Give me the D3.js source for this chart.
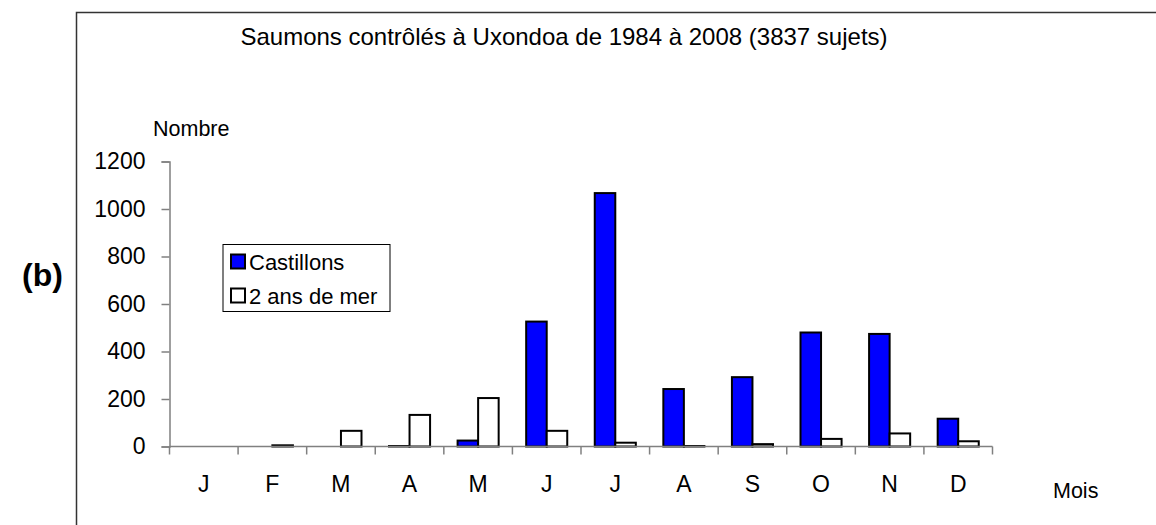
<!DOCTYPE html>
<html>
<head>
<meta charset="utf-8">
<script src="https://cdn.jsdelivr.net/npm/d3@7"></script>
<style>
  body { margin: 0; background: #fff; }
  svg { display: block; font-family: "Liberation Sans", Arial, sans-serif; }
</style>
</head>
<body>
<div id="chart"></div>
<script>
// month initials (x categories)
const months = ["J", "F", "M", "A", "M", "J", "J", "A", "S", "O", "N", "D"]
// salmon counts per month
const castillons = [0, 0, 0, 2, 25, 526, 1067, 242, 292, 480, 474, 117]
const deuxAnsDeMer = [0, 5, 66, 133, 204, 66, 16, 2, 10, 32, 55, 22]
const yTicks = [0, 200, 400, 600, 800, 1000, 1200]
const seriesNames = ["Castillons", "2 ans de mer"]
const seriesColors = ["#0000ff", "#ffffff"]

const W = 1156, H = 525
const margin = { left: 169.5, right: W - 992.5, top: 161.5, bottom: H - 446.5 }

const svg = d3.select("#chart").append("svg")
  .attr("width", W)
  .attr("height", H)

// outer frame (cropped on the right and bottom)
svg.append("path")
  .attr("d", `M76.5,${H + 2}V12.5H${W + 2}`)
  .attr("fill", "none")
  .attr("stroke", "#333")
  .attr("stroke-width", 1.5)

const x = d3.scaleBand()
  .domain(d3.range(months.length))
  .range([margin.left, W - margin.right])

const x1 = d3.scaleBand()
  .domain([0, 1])
  .range([0, x.bandwidth()])
  .paddingInner(0)
  .paddingOuter(0.67)

const y = d3.scaleLinear()
  .domain([0, 1200])
  .range([H - margin.bottom, margin.top])

// y axis
const yAxis = svg.append("g")
  .attr("transform", `translate(${margin.left},0)`)
  .call(d3.axisLeft(y).tickValues(yTicks).tickFormat(d3.format("d")).tickSize(8).tickPadding(16))
yAxis.select(".domain").attr("stroke", "#808080").attr("stroke-width", 1.5)
yAxis.selectAll(".tick line").attr("stroke", "#808080").attr("stroke-width", 1.5)
yAxis.selectAll(".tick text")
  .attr("font-size", "23px")
  .attr("fill", "#000")
  .attr("font-family", "Liberation Sans, Arial, sans-serif")

// bars
const data = months.map((m, i) => [castillons[i], deuxAnsDeMer[i]])
const groups = svg.append("g").selectAll("g")
  .data(data)
  .join("g")
  .attr("transform", (d, i) => `translate(${x(i)},0)`)

groups.selectAll("rect")
  .data(d => d.map((v, k) => ({ v, k })))
  .join("rect")
  .attr("x", d => x1(d.k))
  .attr("width", x1.bandwidth())
  .attr("y", d => y(d.v))
  .attr("height", d => y(0) - y(d.v))
  .attr("fill", d => seriesColors[d.k])
  .attr("stroke", "#000")
  .attr("stroke-width", 2)

// x axis (zero line + category ticks)
const xAxis = svg.append("g")
  .attr("transform", `translate(0,${y(0)})`)
xAxis.append("line")
  .attr("x1", margin.left).attr("x2", W - margin.right)
  .attr("stroke", "#808080").attr("stroke-width", 1.5)
xAxis.selectAll(".tk")
  .data(d3.range(months.length + 1))
  .join("line")
  .attr("class", "tk")
  .attr("x1", i => i < months.length ? x(i) : x(months.length - 1) + x.bandwidth())
  .attr("x2", i => i < months.length ? x(i) : x(months.length - 1) + x.bandwidth())
  .attr("y1", 0).attr("y2", 8)
  .attr("stroke", "#808080").attr("stroke-width", 1.5)
xAxis.selectAll(".lbl")
  .data(months)
  .join("text")
  .attr("class", "lbl")
  .attr("x", (d, i) => x(i) + x.bandwidth() / 2)
  .attr("y", 45)
  .attr("text-anchor", "middle")
  .attr("font-size", "23px")
  .text(d => d)

// titles
svg.append("text")
  .attr("x", 564).attr("y", 45)
  .attr("text-anchor", "middle")
  .attr("font-size", "24px")
  .text("Saumons contrôlés à Uxondoa de 1984 à 2008 (3837 sujets)")

svg.append("text")
  .attr("x", 153).attr("y", 136)
  .attr("font-size", "21.5px")
  .text("Nombre")

svg.append("text")
  .attr("x", 1053).attr("y", 498)
  .attr("font-size", "21.5px")
  .text("Mois")

svg.append("text")
  .attr("x", 22).attr("y", 286)
  .attr("font-size", "32px")
  .attr("font-weight", "bold")
  .text("(b)")

// legend
const legend = svg.append("g").attr("transform", "translate(223,244.5)")
legend.append("rect")
  .attr("width", 167).attr("height", 67)
  .attr("fill", "#fff").attr("stroke", "#000").attr("stroke-width", 1)
const items = legend.selectAll(".item")
  .data(seriesNames)
  .join("g")
  .attr("class", "item")
  .attr("transform", (d, i) => `translate(8,${10 + i * 34})`)
items.append("rect")
  .attr("width", 14).attr("height", 14)
  .attr("fill", (d, i) => seriesColors[i])
  .attr("stroke", "#000").attr("stroke-width", 2)
items.append("text")
  .attr("x", 18).attr("y", 15)
  .attr("font-size", "22px")
  .text(d => d)
</script>
</body>
</html>
